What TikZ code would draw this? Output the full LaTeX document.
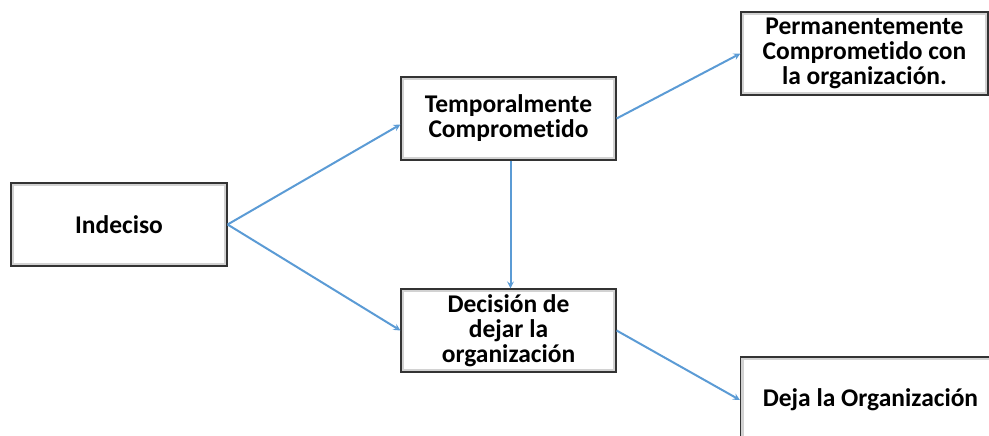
\documentclass[tikz,border=0pt]{standalone}
\usepackage{fontspec}
\setmainfont[Ligatures=NoCommon]{Carlito}
\usetikzlibrary{calc,arrows}

\definecolor{flecha}{RGB}{91,155,213}
\tikzset{
  caja/.style={draw=black!80, line width=1.2pt, fill=white, align=center,
    minimum height=83pt, inner sep=2pt,
    font=\bfseries\fontsize{25.5}{25}\selectfont,
    path picture={\draw[gray!35, line width=6pt]
      (path picture bounding box.south west) rectangle (path picture bounding box.north east);}},
  flechita/.style={draw=flecha, line width=2pt, -stealth}
}

\begin{document}
\begin{tikzpicture}[x=1pt,y=-1pt]
\useasboundingbox (0,0) rectangle (989,436);
\node[caja, minimum width=216pt] (ind) at (119,224.5) {Indeciso};
\node[caja, minimum width=215pt] (temp) at (508.5,118.5) {Temporalmente\\Comprometido};
\node[caja, minimum width=215pt] (dec) at (508.5,330.5) {Decisión de\\dejar la\\organización};
\node[caja, minimum width=247pt] (perm) at (864.5,53.5) {Permanentemente\\Comprometido con\\la organización.};
\node[caja, minimum width=260pt, minimum height=86pt] (deja) at (870.5,400) {Deja la Organización};
\draw[flechita] (ind.east) -- ([yshift=-6pt]temp.west);
\draw[flechita] (ind.east) -- (dec.west);
\draw[flechita] ([xshift=2pt]temp.south) -- ([xshift=2pt]dec.north);
\draw[flechita] (temp.east) -- (perm.west);
\draw[flechita] (dec.east) -- (deja.west);
\end{tikzpicture}
\end{document}
